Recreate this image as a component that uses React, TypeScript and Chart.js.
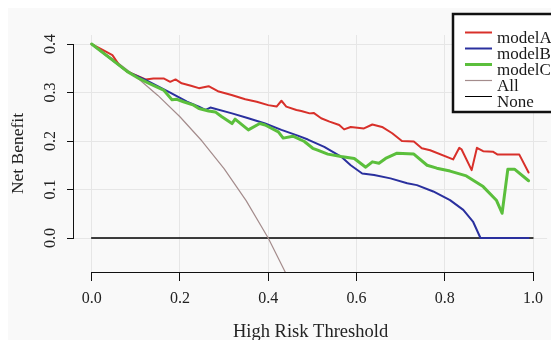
import React, { useEffect, useRef } from 'react';
import { Chart, registerables } from 'chart.js';

Chart.register(...registerables);

// ---- data ----
const thresholdA = [0, 0.025, 0.047, 0.062, 0.081, 0.1, 0.122, 0.14, 0.163, 0.178, 0.19, 0.204, 0.225, 0.243, 0.265, 0.288, 0.317, 0.348, 0.374, 0.4, 0.419, 0.43, 0.441, 0.464, 0.475, 0.494, 0.503, 0.52, 0.539, 0.561, 0.572, 0.587, 0.617, 0.636, 0.658, 0.681, 0.703, 0.73, 0.748, 0.767, 0.819, 0.833, 0.838, 0.861, 0.873, 0.887, 0.909, 0.92, 0.969, 0.99];
const benefitA = [0.4, 0.388, 0.377, 0.357, 0.343, 0.336, 0.327, 0.329, 0.329, 0.322, 0.327, 0.319, 0.314, 0.309, 0.313, 0.302, 0.295, 0.286, 0.281, 0.274, 0.271, 0.283, 0.271, 0.264, 0.262, 0.257, 0.258, 0.247, 0.24, 0.233, 0.224, 0.229, 0.226, 0.234, 0.229, 0.216, 0.2, 0.199, 0.185, 0.181, 0.162, 0.186, 0.183, 0.14, 0.186, 0.179, 0.178, 0.172, 0.172, 0.135];

const thresholdB = [0, 0.04, 0.081, 0.122, 0.178, 0.216, 0.243, 0.258, 0.269, 0.318, 0.355, 0.393, 0.43, 0.467, 0.49, 0.527, 0.565, 0.587, 0.613, 0.64, 0.677, 0.715, 0.737, 0.774, 0.812, 0.842, 0.864, 0.881, 0.99];
const benefitB = [0.4, 0.372, 0.343, 0.326, 0.3, 0.281, 0.271, 0.264, 0.269, 0.257, 0.247, 0.236, 0.223, 0.211, 0.203, 0.188, 0.168, 0.15, 0.133, 0.13, 0.123, 0.113, 0.109, 0.096, 0.078, 0.058, 0.034, 0.0, 0.0];

const thresholdC = [0, 0.04, 0.081, 0.107, 0.13, 0.163, 0.182, 0.193, 0.208, 0.231, 0.243, 0.265, 0.28, 0.295, 0.318, 0.325, 0.355, 0.381, 0.393, 0.423, 0.434, 0.456, 0.482, 0.501, 0.512, 0.535, 0.565, 0.595, 0.621, 0.636, 0.651, 0.666, 0.692, 0.73, 0.76, 0.782, 0.812, 0.849, 0.887, 0.917, 0.93, 0.943, 0.958, 0.99];
const benefitC = [0.4, 0.372, 0.343, 0.329, 0.319, 0.305, 0.285, 0.286, 0.281, 0.274, 0.267, 0.262, 0.26, 0.25, 0.236, 0.245, 0.223, 0.236, 0.233, 0.219, 0.206, 0.21, 0.199, 0.185, 0.181, 0.173, 0.168, 0.164, 0.146, 0.157, 0.154, 0.164, 0.175, 0.173, 0.15, 0.144, 0.138, 0.128, 0.106, 0.078, 0.051, 0.142, 0.142, 0.118];

const thresholdAll = [0, 0.05, 0.1, 0.15, 0.2, 0.25, 0.3, 0.35, 0.4, 0.45];
const benefitAll = [0.4, 0.368, 0.333, 0.294, 0.25, 0.2, 0.143, 0.077, 0.0, -0.091];

const thresholdNone = [0, 1];
const benefitNone = [0, 0];

const seriesLabels = ['modelA', 'modelB', 'modelC', 'All', 'None'];
const xTicks = [0, 0.2, 0.4, 0.6, 0.8, 1.0];
const yTicks = [0, 0.1, 0.2, 0.3, 0.4];
const xTitle = 'High Risk Threshold';
const yTitle = 'Net Benefit';

const FONT = "'Liberation Serif', 'DejaVu Serif', serif";

const toPoints = (xs: number[], ys: number[]) => xs.map((x, i) => ({ x, y: ys[i] }));

const backgroundPlugin = {
  id: 'bg',
  beforeDraw(chart: any) {
    const { ctx, width, height } = chart;
    ctx.save();
    ctx.fillStyle = '#ffffff';
    ctx.fillRect(0, 0, width, height);
    ctx.fillStyle = '#f9f9f9';
    ctx.fillRect(8, 8, width - 8, height - 8);
    ctx.restore();
  },
};

const axisLinePlugin = {
  id: 'rAxes',
  afterDatasetsDraw(chart: any) {
    const { ctx, chartArea, scales } = chart;
    const x = scales.x;
    const y = scales.y;
    ctx.save();
    ctx.strokeStyle = '#111';
    ctx.lineWidth = 1;
    ctx.beginPath();
    const yb = Math.round(chartArea.bottom) + 0.5;
    ctx.moveTo(x.getPixelForValue(xTicks[0]), yb);
    ctx.lineTo(x.getPixelForValue(xTicks[xTicks.length - 1]), yb);
    const xl = Math.round(chartArea.left) - 0.5;
    ctx.moveTo(xl, y.getPixelForValue(yTicks[0]));
    ctx.lineTo(xl, y.getPixelForValue(yTicks[yTicks.length - 1]));
    ctx.stroke();
    ctx.restore();
  },
};

const legendPlugin = {
  id: 'rLegend',
  afterDraw(chart: any) {
    const { ctx } = chart;
    const boxX = 453;
    const boxY = 14;
    ctx.save();
    ctx.fillStyle = '#ffffff';
    ctx.fillRect(boxX, boxY, 120, 98);
    ctx.strokeStyle = '#111';
    ctx.lineWidth = 2.5;
    ctx.strokeRect(boxX, boxY, 120, 98);
    chart.data.datasets.forEach((ds: any, i: number) => {
      const ly = 32.5 + i * 16;
      ctx.strokeStyle = ds.borderColor;
      ctx.lineWidth = ds.legendWidth || ds.borderWidth;
      ctx.beginPath();
      ctx.moveTo(465, ly);
      ctx.lineTo(492, ly);
      ctx.stroke();
      ctx.fillStyle = '#1a1a1a';
      ctx.font = `17px ${FONT}`;
      ctx.textBaseline = 'alphabetic';
      ctx.textAlign = 'left';
      ctx.fillText(ds.label, 497, ly + 10.5);
    });
    ctx.restore();
  },
};

export default function App() {
  const ref = useRef<HTMLCanvasElement>(null);

  useEffect(() => {
    document.body.style.margin = '0';
    const chart = new Chart(ref.current as HTMLCanvasElement, {
      type: 'line',
      data: {
        datasets: [
          { label: seriesLabels[0], data: toPoints(thresholdA, benefitA), borderColor: '#d8302a', borderWidth: 2, order: 3 },
          { label: seriesLabels[1], data: toPoints(thresholdB, benefitB), borderColor: '#2a309e', borderWidth: 2, order: 2 },
          { label: seriesLabels[2], data: toPoints(thresholdC, benefitC), borderColor: '#5bbf3c', borderWidth: 3, order: 1 },
          { label: seriesLabels[3], data: toPoints(thresholdAll, benefitAll), borderColor: '#a48c8c', borderWidth: 1.2, order: 4 },
          { label: seriesLabels[4], data: toPoints(thresholdNone, benefitNone), borderColor: '#000000', borderWidth: 1.4, legendWidth: 1, order: 5 },
        ] as any,
      },
      options: {
        responsive: false,
        animation: false,
        layout: { padding: { top: 35, right: 0, bottom: 0, left: 0 } },
        elements: {
          point: { radius: 0, hoverRadius: 0 },
          line: { tension: 0, fill: false, borderJoinStyle: 'round', borderCapStyle: 'round' },
        },
        plugins: {
          legend: { display: false },
          tooltip: { enabled: false },
        },
        scales: {
          x: {
            type: 'linear',
            min: -0.04,
            max: 1.0319,
            afterBuildTicks: (s: any) => { s.ticks = xTicks.map((v) => ({ value: v })); },
            afterFit: (s: any) => { s.height = 68; },
            grid: { color: '#e6e6e6', tickColor: '#111', tickLength: 9, drawOnChartArea: true, drawTicks: true, lineWidth: 1 },
            border: { display: false },
            ticks: {
              callback: (v: any) => Number(v).toFixed(1),
              font: { family: FONT, size: 16 },
              color: '#222',
              padding: 8,
              minRotation: 0,
              maxRotation: 0,
              autoSkip: false,
            },
            title: { display: true, text: xTitle, font: { family: FONT, size: 18.5, lineHeight: 1 }, color: '#222', padding: { top: 0, bottom: -1.5 } },
          },
          y: {
            type: 'linear',
            min: -0.0701,
            max: 0.4186,
            afterBuildTicks: (s: any) => { s.ticks = yTicks.map((v) => ({ value: v })); },
            afterFit: (s: any) => { s.width = 74; },
            grid: { color: '#e6e6e6', tickColor: '#111', tickLength: 7, drawOnChartArea: true, drawTicks: true, lineWidth: 1 },
            border: { display: false },
            ticks: {
              callback: (v: any) => Number(v).toFixed(1),
              font: { family: FONT, size: 16 },
              color: '#222',
              padding: 6,
              minRotation: 90,
              maxRotation: 90,
              crossAlign: 'center',
              autoSkip: false,
            },
            title: { display: true, text: yTitle, font: { family: FONT, size: 17.5, lineHeight: 1 }, color: '#222', padding: { top: 9.75, bottom: 0 } },
          },
        },
      } as any,
      plugins: [backgroundPlugin, axisLinePlugin, legendPlugin],
    });
    return () => chart.destroy();
  }, []);

  return (
    <div style={{ position: 'fixed', left: 0, top: 0, width: 551, height: 340 }}>
      <canvas ref={ref} width={551} height={340} style={{ display: 'block', width: 551, height: 340 }} />
    </div>
  );
}
